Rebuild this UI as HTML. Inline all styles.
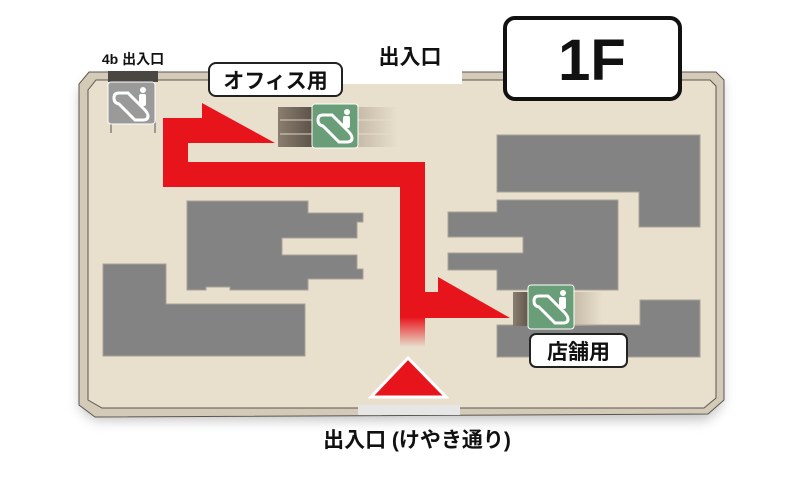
<!DOCTYPE html>
<html><head><meta charset="utf-8"><style>
html,body{margin:0;padding:0;background:#fff;width:800px;height:482px;overflow:hidden}
svg{display:block}
text{font-family:"Liberation Sans","Noto Sans CJK JP",sans-serif;font-weight:bold;fill:#111}
</style></head><body>
<svg width="800" height="482" viewBox="0 0 800 482" xmlns="http://www.w3.org/2000/svg">
<defs>
<filter id="sh" x="-10%" y="-10%" width="120%" height="130%"><feGaussianBlur stdDeviation="6"/></filter>
<linearGradient id="fade" x1="0" y1="0" x2="0" y2="1"><stop offset="0" stop-color="#e8141c"/><stop offset="1" stop-color="#e8141c" stop-opacity="0"/></linearGradient>
<linearGradient id="stR" x1="0" y1="0" x2="1" y2="0"><stop offset="0" stop-color="#b5a995"/><stop offset="1" stop-color="#b5a995" stop-opacity="0"/></linearGradient>
<linearGradient id="stL" x1="1" y1="0" x2="0" y2="0"><stop offset="0" stop-color="#5a5046"/><stop offset="1" stop-color="#8a7e70"/></linearGradient>
<g id="esc">
<rect x="0" y="0" width="46" height="44" rx="3" fill="#6a9e78" stroke="#fff" stroke-width="1"/>
<circle cx="35" cy="8" r="3" fill="#fff"/>
<rect x="31" y="12" width="7" height="12" rx="2" fill="#fff"/>
<path d="M6,16 Q6,11 11,11 L20,11 L36,27 Q40,31 40,34 Q40,38 35,38 L27,38 L11,22 Q6,21 6,16 Z" fill="none" stroke="#fff" stroke-width="3"/>
</g>
</defs>
<polygon points="92,80 722,80 722,405 706,420 95,420 80,408 80,92" fill="#999" filter="url(#sh)" opacity="0.6"/>
<polygon points="89,72 716,72 724,80 724,400 708,414 95,417 79,405 79,84" fill="#d4cab8" stroke="#5c5650" stroke-width="1"/>
<polygon points="96,80 710,80 716,86 716,398 704,408 102,408 88,400 88,90" fill="#e8dfcd" stroke="#5c5650" stroke-width="1"/>
<rect x="340" y="60" width="122" height="24" fill="#fff"/>
<rect x="358" y="405" width="102" height="10" fill="#e6e6e6"/>
<g fill="#838384" stroke="#a8a098" stroke-width="1">
<polygon points="103,264 166,264 166,304 305,304 305,356 103,356"/>
<polygon points="187,201 308,201 308,213 363,213 363,222 357,222 357,238 282,238 282,255 357,255 357,269 363,269 363,279 308,279 308,290 230,290 230,287 206,287 206,290 187,290"/>
<polygon points="497,200 618,200 618,290 497,290 497,270 448,270 448,253 523,253 523,237 448,237 448,212 497,212"/>
<polygon points="497,135 700,135 700,227 639,227 639,192 497,192"/>
<polygon points="497,325 640,325 640,300 700,300 700,357 497,357"/>
</g>
<rect x="278" y="107" width="36" height="40" fill="url(#stL)"/>
<rect x="356" y="107" width="42" height="40" fill="url(#stR)" opacity="0.7"/>
<g stroke="#e8dfcd" stroke-width="1.5" opacity="0.6">
<line x1="280" y1="120" x2="398" y2="120"/><line x1="280" y1="134" x2="398" y2="134"/>
</g>
<rect x="513" y="292" width="18" height="34" fill="url(#stL)"/>
<rect x="572" y="292" width="30" height="34" fill="url(#stR)" opacity="0.7"/>
<rect x="108" y="71" width="50" height="11" fill="#4a4642"/>
<line x1="111" y1="120" x2="111" y2="133" stroke="#555" stroke-width="1"/>
<line x1="155" y1="120" x2="155" y2="133" stroke="#555" stroke-width="1"/>
<polygon points="163,118 202,118 202,103 275,143 188,143 188,162 425,162 425,292 438,292 438,277 510,318 400,318 400,187 163,187" fill="#e8141c"/>
<rect x="400" y="317" width="25" height="30" fill="url(#fade)"/>
<polygon points="371,397 408,358 446,397" fill="#e8141c" stroke="#fff" stroke-width="3"/>
<use href="#esc" x="312" y="104"/>
<use href="#esc" x="528" y="285"/>
<g transform="translate(108,82)">
<rect x="0" y="0" width="47" height="42" rx="3" fill="#9a9a9a" stroke="#fff" stroke-width="1"/>
<circle cx="35" cy="8" r="3" fill="#fff"/>
<rect x="31" y="12" width="7" height="12" rx="2" fill="#fff"/>
<path d="M6,16 Q6,11 11,11 L20,11 L36,27 Q40,31 40,34 Q40,38 35,38 L27,38 L11,22 Q6,21 6,16 Z" fill="none" stroke="#fff" stroke-width="3"/>
</g>
<rect x="209" y="63" width="133" height="33" rx="7" fill="#fff" stroke="#222" stroke-width="2"/>
<text x="275.5" y="88" font-size="21" text-anchor="middle">オフィス用</text>
<rect x="530" y="334" width="97" height="33" rx="6" fill="#fff" stroke="#222" stroke-width="2"/>
<text x="578.5" y="359" font-size="21" text-anchor="middle">店舗用</text>
<text x="410" y="64" font-size="21" text-anchor="middle">出入口</text>
<text x="133" y="64" font-size="14" text-anchor="middle">4b 出入口</text>
<text x="417" y="447" font-size="21" text-anchor="middle">出入口 (けやき通り)</text>
<rect x="505" y="18" width="175" height="81" rx="10" fill="#fff" stroke="#111" stroke-width="4"/>
<text x="592" y="80" font-size="58" text-anchor="middle">1F</text>
</svg>
</body></html>
